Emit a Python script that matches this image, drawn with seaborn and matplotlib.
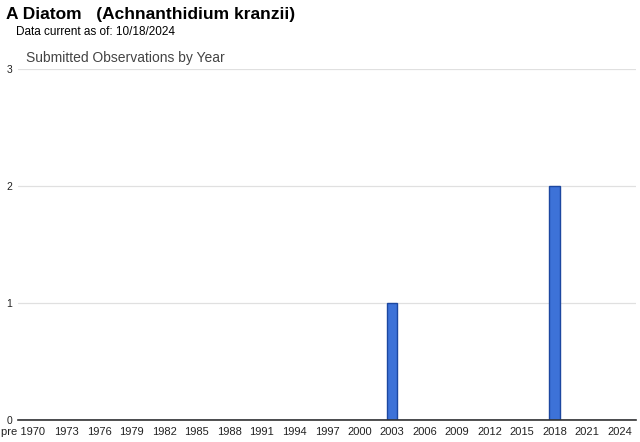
import matplotlib
matplotlib.use("Agg")
import matplotlib.pyplot as plt
import seaborn as sns
import pandas as pd

categories = ["pre 1970"] + [str(y) for y in range(1970, 2026)]
obs_years = ["2003", "2018"]
obs_counts = [1, 2]
tick_labels = ["pre 1970"] + [str(y) for y in range(1973, 2025, 3)]

counts = [obs_counts[obs_years.index(c)] if c in obs_years else 0 for c in categories]
df = pd.DataFrame({"year": categories, "count": counts})

sns.set_theme(style="white")
plt.rcParams["font.family"] = ["Liberation Sans", "DejaVu Sans"]

fig = plt.figure(figsize=(6.4, 4.42), dpi=100)
ax = fig.add_axes([18/640, 1-420/442, (636-18)/640, (420-69)/442])

sns.barplot(data=df, x="year", y="count", order=categories, color="#3d72d8",
            edgecolor="#1c47a0", linewidth=1.0, width=1.0, ax=ax, saturation=1)

ax.set_ylim(0, 3)
ax.set_xlim(-0.5, len(categories) - 0.5)
ax.set_yticks([0, 1, 2, 3])
ax.set_yticklabels(["0", "1", "2", "3"], fontsize=7.5, color="#222222")
ax.yaxis.grid(True, color="#e0e0e0", linewidth=0.9)
ax.set_axisbelow(True)
pos = [categories.index(t) for t in tick_labels]
ax.set_xticks(pos)
ax.set_xticklabels(tick_labels, fontsize=8, color="#222222")
ax.tick_params(axis="x", length=3, color="#cccccc", pad=2)
ax.tick_params(axis="y", length=0, pad=4)
ax.set_xlabel("")
ax.set_ylabel("")
for s in ["top", "right", "left"]:
    ax.spines[s].set_visible(False)
ax.spines["bottom"].set_color("#333333")
ax.spines["bottom"].set_linewidth(1.2)

fig.text(6/640, 1-15/442, "A Diatom   (Achnanthidium kranzii)", fontsize=12.5,
         fontweight="bold", va="center", ha="left", color="black")
fig.text(16/640, 1-32/442, "Data current as of: 10/18/2024", fontsize=8.5,
         va="center", ha="left", color="black")
fig.text(26/640, 1-58/442, "Submitted Observations by Year", fontsize=10,
         va="center", ha="left", color="#444444")

fig.savefig("out.png", dpi=100)
